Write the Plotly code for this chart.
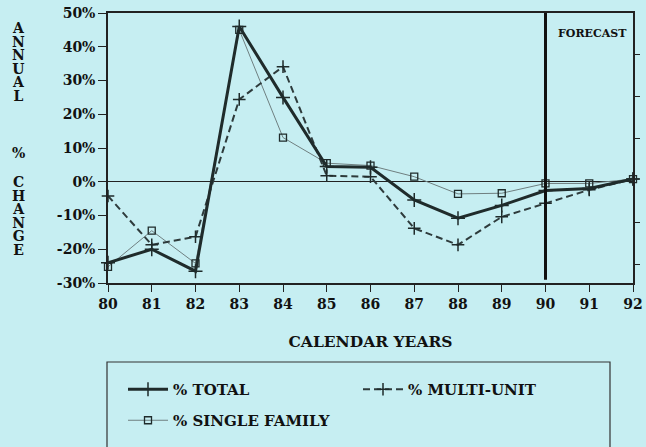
import plotly.graph_objects as go

years = [80, 81, 82, 83, 84, 85, 86, 87, 88, 89, 90, 91, 92]
total = [-24, -20, -26.5, 46, 25, 4.5, 4.3, -5.4, -10.8, -7, -2.6, -2.0, 0.8]
multi_unit = [-4.2, -18.7, -16.3, 24.4, 34.1, 1.8, 1.5, -13.8, -18.7, -10.4, -6.4, -2.4, 0.8]
single_family = [-25.2, -14.5, -24.2, 45, 13.1, 5.5, 4.8, 1.5, -3.6, -3.4, -0.5, -0.5, 0.8]

x_tick_labels = ["80", "81", "82", "83", "84", "85", "86", "87", "88", "89", "90", "91", "92"]
y_tick_vals = [-30, -20, -10, 0, 10, 20, 30, 40, 50]
y_tick_labels = ["-30%", "-20%", "-10%", "0%", "10%", "20%", "30%", "40%", "50%"]
y_title_words = ["ANNUAL", "%", "CHANGE"]
forecast_year = 90

BG = "#c6eef2"
INK = "#1f2b2b"
FONT = "DejaVu Serif"

fig = go.Figure()

fig.add_trace(go.Scatter(
    x=years, y=single_family, name="<b>% SINGLE FAMILY</b>", mode="lines+markers",
    line=dict(color="#6f7f80", width=1),
    marker=dict(symbol="square-open", size=7, color=INK, line=dict(width=1.3, color=INK)),
    cliponaxis=False, legend="legend2",
))
fig.add_trace(go.Scatter(
    x=years, y=multi_unit, name="<b>% MULTI-UNIT</b>", mode="lines+markers",
    line=dict(color="#2e3b3c", width=2, dash="7px,4px"),
    marker=dict(symbol="cross-thin", size=9, line=dict(width=1.5, color=INK)),
    cliponaxis=False, legendrank=2,
))
fig.add_trace(go.Scatter(
    x=years, y=total, name="<b>% TOTAL</b>", mode="lines+markers",
    line=dict(color=INK, width=3),
    marker=dict(symbol="cross-thin", size=10, line=dict(width=1.5, color=INK)),
    cliponaxis=False, legendrank=1,
))
# invisible helper so the right-hand axis is drawn
fig.add_trace(go.Scatter(x=[years[0]], y=[0], yaxis="y2", mode="markers",
                         marker=dict(opacity=0), showlegend=False, hoverinfo="skip"))

fig.add_shape(type="line", xref="x", yref="y", x0=forecast_year, x1=forecast_year,
              y0=-29, y1=50, line=dict(color="#111", width=3))

# legend box
fig.add_shape(type="rect", xref="paper", yref="paper",
              x0=(107 - 108) / 525, x1=(610 - 108) / 525,
              y0=(283 - 362) / 270, y1=(283 - 460) / 270,
              line=dict(color="#333", width=1.2), fillcolor="rgba(0,0,0,0)")

fig.add_annotation(text="<b>FORECAST</b>", xref="paper", yref="paper",
                   x=(592 - 108) / 525, y=(283 - 34) / 270, showarrow=False,
                   xanchor="center", yanchor="middle",
                   font=dict(family=FONT, size=11, color="#111"))

# stacked vertical axis title: one text block per word, letters one per line
word_centers = [61.75, 153, 215.75]
for word, py in zip(y_title_words, word_centers):
    stacked = "<br>".join('<span style="font-size:14px">%s</span>' % ch for ch in word)
    fig.add_annotation(text="<b>%s</b>" % stacked, xref="paper", yref="paper",
                       x=(18 - 108) / 525, y=(283 - py) / 270, showarrow=False,
                       xanchor="center", yanchor="middle",
                       font=dict(family=FONT, size=10.4, color="#111"))

leg_font = dict(family=FONT, size=15, color="#111")
fig.update_layout(
    width=646, height=447,
    margin=dict(l=108, r=13, t=13, b=164, autoexpand=False),
    paper_bgcolor=BG, plot_bgcolor=BG,
    showlegend=True,
    legend=dict(orientation="h", x=(123 - 108) / 525, y=(283 - 373) / 270,
                xanchor="left", yanchor="top", entrywidth=180, entrywidthmode="pixels",
                bgcolor="rgba(0,0,0,0)", borderwidth=0, font=leg_font,
                traceorder="normal", itemwidth=40),
    legend2=dict(orientation="h", x=(123 - 108) / 525, y=(283 - 404) / 270,
                 xanchor="left", yanchor="top",
                 bgcolor="rgba(0,0,0,0)", borderwidth=0, font=leg_font, itemwidth=40),
    xaxis=dict(range=[80, 92], tickvals=years, ticktext=["<b>%s</b>" % t for t in x_tick_labels],
               showgrid=False, zeroline=False, showline=True, linecolor="#222", linewidth=1.5,
               mirror=True, ticks="outside", ticklen=7, tickcolor="#222", tickwidth=1.2,
               tickfont=dict(family=FONT, size=14, color="#111"), automargin=False,
               title=dict(text="<b>CALENDAR YEARS</b>", font=dict(family=FONT, size=15.5, color="#111"),
                          standoff=26)),
    yaxis=dict(range=[-30, 50], tickvals=y_tick_vals, ticktext=["<b>%s</b>" % t for t in y_tick_labels],
               showgrid=False, zeroline=True, zerolinecolor="#222", zerolinewidth=1.2,
               showline=True, linecolor="#222", linewidth=1.5, automargin=False,
               ticks="outside", ticklen=8, tickcolor="#222", tickwidth=1.2,
               tickfont=dict(family=FONT, size=14, color="#111")),
    yaxis2=dict(overlaying="y", side="right", anchor="x", range=[-0.43, 6.0],
                tickvals=[0, 1, 3, 4, 5], showticklabels=False, showgrid=False, zeroline=False,
                showline=True, linecolor="#222", linewidth=1.5, automargin=False,
                ticks="outside", ticklen=5, tickcolor="#222", tickwidth=1),
)

fig.write_html("out.html", config={"displayModeBar": False},
               post_script="document.body.style.margin='0';")
